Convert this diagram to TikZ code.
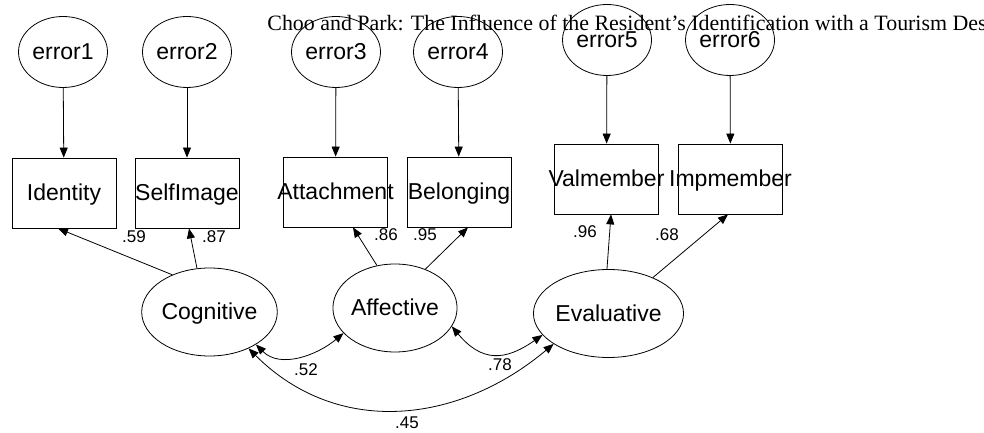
\documentclass[tikz,border=0pt]{standalone}
\usepackage{fontspec}
\setmainfont{Liberation Serif}
\setsansfont{Liberation Sans}
\usetikzlibrary{shapes.geometric,arrows.meta}
\begin{document}
\begin{tikzpicture}[x=1pt,y=1pt,line width=.8pt,>={Triangle[length=10pt,width=8pt]},
  err/.style={draw,ellipse,minimum width=89pt,minimum height=71pt,inner sep=0pt,text height=16.5pt,text depth=.5pt,font=\sffamily\fontsize{23}{26}\selectfont},
  obs/.style={draw,rectangle,minimum width=104pt,minimum height=70pt,inner sep=0pt,text height=16.5pt,text depth=.5pt,font=\sffamily\fontsize{23}{26}\selectfont},
  lat/.style={draw,ellipse,minimum width=115pt,minimum height=88pt,inner sep=0pt,text height=16.5pt,text depth=.5pt,font=\sffamily\fontsize{23}{26}\selectfont},
  coef/.style={inner sep=0pt,font=\sffamily\fontsize{17}{20}\selectfont}]
\useasboundingbox (0,0) rectangle (984,433);
\node[anchor=base west,inner sep=0pt,font=\fontsize{21.9}{26}\selectfont] (title) at (267,402) {Choo and Park: The Influence of the Resident’s Identification with a Tourism Des};
\node[err] (e1) at (63,381) {error1};
\node[err] (e2) at (187,381) {error2};
\node[err] (e3) at (336,381) {error3};
\node[err] (e4) at (458,381) {error4};
\node[err] (e5) at (607,393) {error5};
\node[err] (e6) at (730,393) {error6};
\node[obs] (ident) at (64,240) {\makebox[0pt]{Identity}};
\node[obs] (self) at (187,240) {\makebox[0pt]{SelfImage}};
\node[obs] (attach) at (335.5,241) {\makebox[0pt]{Attachment}};
\node[obs] (belong) at (459,241) {\makebox[0pt]{Belonging}};
\node[obs] (valm) at (606.5,254) {\makebox[0pt]{Valmember}};
\node[obs] (impm) at (730.5,254) {\makebox[0pt]{Impmember}};
\node[lat] (cog) at (209.5,121) {Cognitive};
\node[lat] (aff) at (395,125) {Affective};
\node[lat] (eva) at (608.5,119.5) {Evaluative};
\foreach \e/\b in {e1/ident,e2/self,e3/attach,e4/belong,e5/valm,e6/impm}\draw[->] (\e) -- (\b);
\draw[->] (cog.135) -- ([xshift=-6pt]ident.south);
\draw[->] (cog.106) -- ([xshift=2pt]self.south);
\draw[->] (aff.113) -- ([xshift=17.5pt]attach.south);
\draw[->] (aff.52) -- ([xshift=9pt]belong.south);
\draw[->] (eva.92) -- ([xshift=4.5pt]valm.south);
\draw[->] (eva.39) -- ([xshift=-2.5pt]impm.south);
\draw[<->] (cog.-35) to[out=-45,in=-140] (aff.-154);
\draw[<->] (aff.-18) to[out=-50,in=-145,looseness=1.3] (eva.-162);
\draw[<->] (cog.-43) to[out=-45,in=-140,looseness=1.05] (eva.-151);
\node[coef] (c1) at (134,196) {.59};
\node[coef] (c2) at (214,196) {.87};
\node[coef] (c3) at (386,198) {.86};
\node[coef] (c4) at (425,198) {.95};
\node[coef] (c5) at (585,201) {.96};
\node[coef] (c6) at (667,198) {.68};
\node[coef] (c7) at (306,63) {.52};
\node[coef] (c8) at (500,68) {.78};
\node[coef] (c9) at (407,10) {.45};
\end{tikzpicture}
\end{document}
